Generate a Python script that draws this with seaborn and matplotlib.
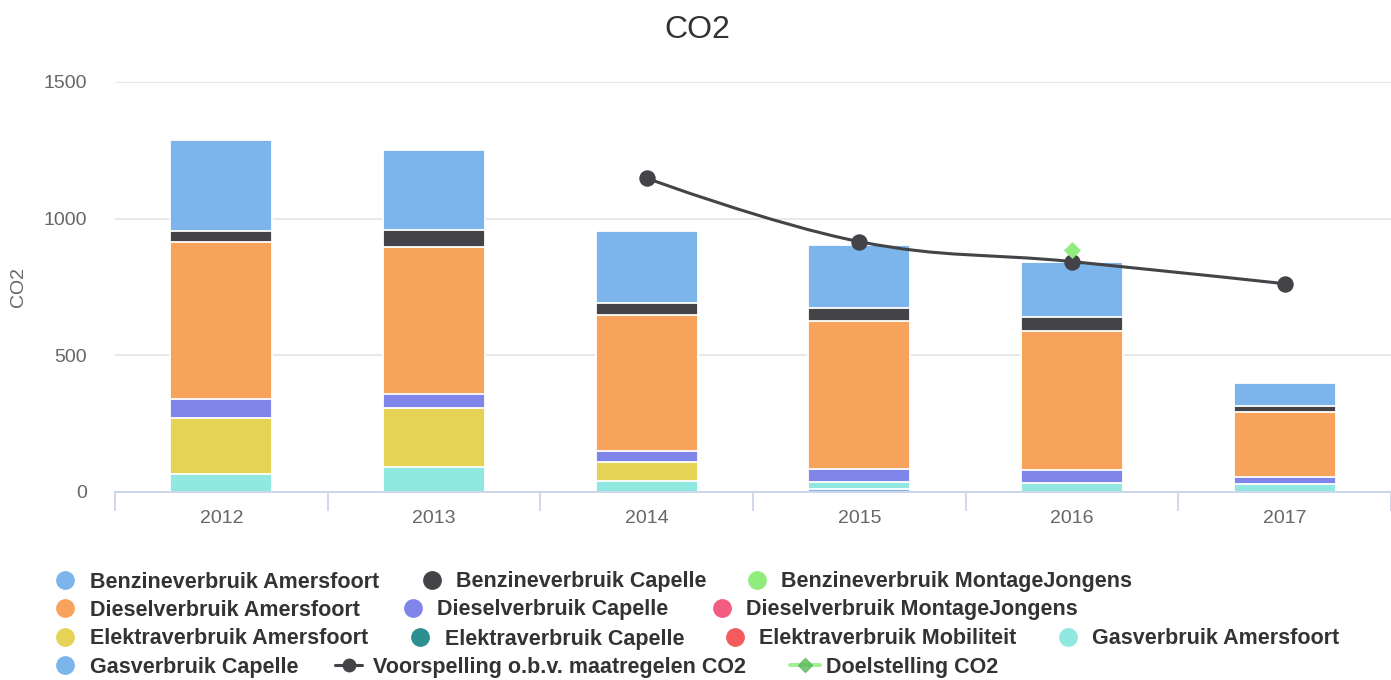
import numpy as np
import pandas as pd
import matplotlib
matplotlib.use("Agg")
import matplotlib.pyplot as plt
from matplotlib.path import Path
from matplotlib.patches import PathPatch
from matplotlib.lines import Line2D
import seaborn as sns

# ---------------- data ----------------
years = ["2012", "2013", "2014", "2015", "2016", "2017"]

benzine_amersfoort = [332, 295, 262, 227, 201, 82]
benzine_capelle = [41, 59, 45, 48, 51, 23]
benzine_montagejongens = [0, 0, 0, 0, 0, 0]
diesel_amersfoort = [576, 541, 497, 543, 509, 239]
diesel_capelle = [67, 48, 40, 46, 48, 26]
diesel_montagejongens = [0, 0, 0, 0, 0, 0]
elektra_amersfoort = [206, 216, 72, 0, 0, 0]
elektra_capelle = [0, 0, 0, 0, 0, 0]
elektra_mobiliteit = [0, 0, 0, 0, 0, 0]
gas_amersfoort = [66, 93, 39, 26, 33, 28]
gas_capelle = [0, 0, 0, 12, 0, 0]

voorspelling = [np.nan, np.nan, 1148, 916, 843, 762]
doelstelling = [np.nan, np.nan, np.nan, np.nan, 885, np.nan]

series_names = [
    "Benzineverbruik Amersfoort", "Benzineverbruik Capelle", "Benzineverbruik MontageJongens",
    "Dieselverbruik Amersfoort", "Dieselverbruik Capelle", "Dieselverbruik MontageJongens",
    "Elektraverbruik Amersfoort", "Elektraverbruik Capelle", "Elektraverbruik Mobiliteit",
    "Gasverbruik Amersfoort", "Gasverbruik Capelle",
]
series_values = [
    benzine_amersfoort, benzine_capelle, benzine_montagejongens,
    diesel_amersfoort, diesel_capelle, diesel_montagejongens,
    elektra_amersfoort, elektra_capelle, elektra_mobiliteit,
    gas_amersfoort, gas_capelle,
]
palette = ["#7cb5ec", "#434348", "#90ed7d", "#f7a35c", "#8085e9", "#f15c80",
           "#e4d354", "#2b908f", "#f45b5b", "#91e8e1", "#7cb5ec"]
line_name = "Voorspelling o.b.v. maatregelen CO2"
target_name = "Doelstelling CO2"
line_color = "#434348"
target_color = "#90ed7d"

# ---------------- style ----------------
sns.set_style("white")
plt.rcParams["font.family"] = ["Liberation Sans", "DejaVu Sans"]

W, H = 1391, 680
fig = plt.figure(figsize=(W / 100, H / 100), dpi=100)
ax = fig.add_axes([115 / W, 1 - 492 / H, (1391 - 115) / W, (492 - 82) / H])

# stacked bars: highcharts stacks first series on top -> draw cumulative
# totals from the top series down so lower segments overlay
vals = np.array(series_values, dtype=float)  # shape (n_series, n_years)
cum_from_bottom = np.cumsum(vals[::-1], axis=0)[::-1]
for i, name in enumerate(series_names):
    mask = vals[i] > 0
    if not mask.any():
        continue
    df = pd.DataFrame({"year": np.array(years)[mask], "cum": cum_from_bottom[i][mask]})
    sns.barplot(data=df, x="year", y="cum", order=years, color=palette[i],
                width=0.48, edgecolor="white", linewidth=1.3, errorbar=None,
                saturation=1, ax=ax, zorder=2)

# spline (Highcharts-like) for forecast line
xs = np.arange(len(years), dtype=float)
vy = np.array(voorspelling, dtype=float)
ok = ~np.isnan(vy)
px, py = xs[ok], vy[ok]
smoothing = 1.5
denom = smoothing + 1
right_cont = [None] * len(px)
verts = [(px[0], py[0])]
codes = [Path.MOVETO]
for i in range(1, len(px)):
    x, y = px[i], py[i]
    lx, ly = px[i - 1], py[i - 1]
    lcx, lcy = x, y
    if i + 1 < len(px):
        nx, ny = px[i + 1], py[i + 1]
        lcx = (smoothing * x + lx) / denom
        lcy = (smoothing * y + ly) / denom
        rcx = (smoothing * x + nx) / denom
        rcy = (smoothing * y + ny) / denom
        corr = 0
        if rcx != lcx:
            corr = ((rcy - lcy) * (rcx - x)) / (rcx - lcx) + y - rcy
        lcy += corr
        rcy += corr
        if lcy > ly and lcy > y:
            lcy = max(ly, y); rcy = 2 * y - lcy
        elif lcy < ly and lcy < y:
            lcy = min(ly, y); rcy = 2 * y - lcy
        if rcy > ny and rcy > y:
            rcy = max(ny, y); lcy = 2 * y - rcy
        elif rcy < ny and rcy < y:
            rcy = min(ny, y); lcy = 2 * y - rcy
        right_cont[i] = (rcx, rcy)
    c1 = right_cont[i - 1] if right_cont[i - 1] is not None else (lx, ly)
    verts += [c1, (lcx, lcy), (x, y)]
    codes += [Path.CURVE4, Path.CURVE4, Path.CURVE4]
ax.add_patch(PathPatch(Path(verts, codes), facecolor="none", edgecolor=line_color,
                       lw=2.2, zorder=4, capstyle="round", joinstyle="round"))

line_df = pd.DataFrame({"x": xs[ok], "y": py})
sns.scatterplot(data=line_df, x="x", y="y", color=line_color, s=140, marker="o",
                edgecolor=line_color, linewidth=0, ax=ax, zorder=5, legend=False)
tg = np.array(doelstelling, dtype=float)
tok = ~np.isnan(tg)
target_df = pd.DataFrame({"x": xs[tok], "y": tg[tok]})
sns.scatterplot(data=target_df, x="x", y="y", color=target_color, s=75, marker="D",
                linewidth=0, ax=ax, zorder=6, legend=False)

# ---------------- axes ----------------
ax.set_xlim(-0.5, len(years) - 0.5)
ax.set_ylim(0, 1500)
ax.set_xlabel("")
ax.set_ylabel("")
ax.set_yticks([0, 500, 1000, 1500])
ax.set_yticklabels(["0", "500", "1000", "1500"])
ax.set_xticks(xs)
ax.set_xticklabels(years)
ax.set_xticks(np.arange(-0.5, len(years), 1.0), minor=True)
ax.tick_params(axis="x", which="major", bottom=True, length=0, pad=13, labelsize=14,
               labelcolor="#666666")
ax.tick_params(axis="x", which="minor", bottom=True, length=14, width=1.3,
               color="#ccd6eb", direction="out")
ax.tick_params(axis="y", left=False, length=0, pad=20, labelsize=14, labelcolor="#666666")
ax.grid(axis="y", color="#e6e6e6", linewidth=1.3, zorder=0)
ax.grid(axis="x", visible=False)
ax.set_axisbelow(True)
for s in ["top", "right", "left"]:
    ax.spines[s].set_visible(False)
ax.spines["bottom"].set_color("#ccd6eb")
ax.spines["bottom"].set_linewidth(1.4)
ax.spines["bottom"].set_zorder(3)

fig.text(18 / W, 1 - 287 / H, "CO2", rotation=90, ha="center", va="center",
         fontsize=14, color="#666666")
fig.text(697 / W, 1 - 38 / H, "CO2", ha="center", va="baseline",
         fontsize=23, color="#333333")

# ---------------- legend (Highcharts-style flow layout) ----------------
rows_y = [580, 608, 637, 665]
legend_items = [
    (0, 65, 90, 0), (0, 432, 456, 1), (0, 757, 781, 2),
    (1, 65, 90, 3), (1, 413, 437, 4), (1, 722, 746, 5),
    (2, 65, 90, 6), (2, 420, 445, 7), (2, 735, 759, 8), (2, 1068, 1092, 9),
    (3, 65, 90, 10),
]
LFS = 15.5
for row, mx, tx, idx in legend_items:
    yy = 1 - rows_y[row] / H
    fig.add_artist(Line2D([mx / W], [yy], transform=fig.transFigure, marker="o",
                          markersize=12.5, color=palette[idx], linestyle="none"))
    fig.text(tx / W, 1 - (rows_y[row] + 7.5) / H, series_names[idx], fontsize=LFS,
             fontweight="bold", color="#333333", va="baseline", ha="left")

yy = 1 - rows_y[3] / H
fig.add_artist(Line2D([335 / W, 362 / W], [yy, yy], transform=fig.transFigure,
                      color=line_color, lw=2.2))
fig.add_artist(Line2D([348.5 / W], [yy], transform=fig.transFigure, marker="o",
                      markersize=9, color=line_color, linestyle="none"))
fig.text(373 / W, 1 - (rows_y[3] + 7.5) / H, line_name, fontsize=LFS,
         fontweight="bold", color="#333333", va="baseline", ha="left")
fig.add_artist(Line2D([790 / W, 820 / W], [yy, yy], transform=fig.transFigure,
                      color=target_color, lw=2.8, alpha=0.85))
fig.add_artist(Line2D([805 / W], [yy], transform=fig.transFigure, marker="D",
                      markersize=7, color="#5cb85c", linestyle="none", alpha=0.8))
fig.text(826 / W, 1 - (rows_y[3] + 7.5) / H, target_name, fontsize=LFS,
         fontweight="bold", color="#333333", va="baseline", ha="left")

fig.savefig("out.png", dpi=100)
